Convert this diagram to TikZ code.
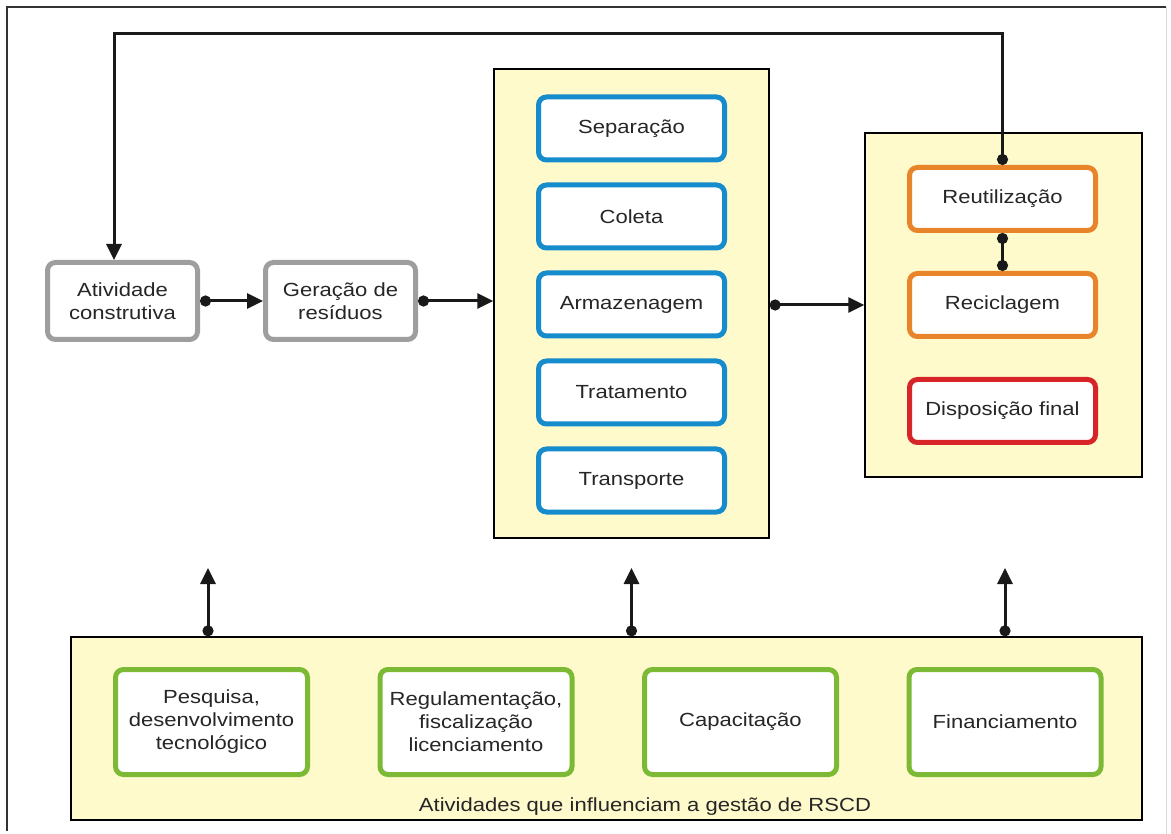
\documentclass[tikz,border=0pt]{standalone}
\usepackage{fontspec}
\setmainfont{Liberation Sans}[FakeStretch=1.16]
\usepackage{xcolor}
\usetikzlibrary{arrows.meta, positioning}
\definecolor{panelyellow}{RGB}{255,250,204}
\definecolor{stagegray}{RGB}{158,158,158}
\definecolor{flowblue}{RGB}{22,140,205}
\definecolor{reuseorange}{RGB}{232,132,42}
\definecolor{dumpred}{RGB}{214,36,40}
\definecolor{supportgreen}{RGB}{124,186,54}
\tikzset{
  panel/.style={
    draw=black, line width=1.3pt, fill=panelyellow, inner sep=0pt
  },
  stagebox/.style={
    draw=stagegray, line width=5pt, rounded corners=8pt, align=center,
    fill=white, minimum width=150pt, minimum height=77pt,
    text=black!85, font=\fontsize{19}{23}\selectfont
  },
  flowbox/.style={
    stagebox, draw=flowblue, minimum width=186pt, minimum height=63pt
  },
  endbox/.style={
    stagebox, minimum width=186pt, minimum height=63pt
  },
  supportbox/.style={
    stagebox, draw=supportgreen, minimum width=192pt, minimum height=105pt
  },
  flowarrow/.style={
    {Circle[length=11pt]}-{Triangle[length=16pt, width=15pt]},
    line width=3pt, color=black!90
  },
  linkline/.style={
    {Circle[length=11pt]}-{Circle[length=11pt]},
    line width=3pt, color=black!90
  },
}

\begin{document}
\begin{tikzpicture}[x=1pt, y=-1pt, node distance=20pt]
  \useasboundingbox (0,0) rectangle (1171,834);
  % ── Frame ──
  \draw[line width=1.4pt, black!80] (7,831) -- (7,7) -- (1166,7);
  \draw[line width=0.6pt, black!15] (1166,7) -- (1166,834);

  % ── Panels ──
  \node[panel, minimum width=275pt, minimum height=469pt] (handling) at (631.5,303.5) {};
  \node[panel, minimum width=277pt, minimum height=344pt] (destiny) at (1003.5,305) {};
  \node[panel, minimum width=1071pt, minimum height=183pt] (support) at (606.5,728.5) {};

  % ── Source stages ──
  \node[stagebox] (activity) at (122.5,301) {Atividade\\construtiva};
  \node[stagebox, right=63pt of activity] (waste) {Geração de\\resíduos};

  % ── Handling steps ──
  \node[flowbox] (sorting) at (631.5,128.5) {Separação};
  \node[flowbox, below=of sorting] (collect) {Coleta};
  \node[flowbox, below=of collect] (storage) {Armazenagem};
  \node[flowbox, below=of storage] (treatment) {Tratamento};
  \node[flowbox, below=of treatment] (transport) {Transporte};

  % ── Destinations ──
  \node[endbox, draw=reuseorange] (reuse) at (1002.5,199) {Reutilização};
  \node[endbox, draw=reuseorange, below=38pt of reuse] (recycle) {Reciclagem};
  \node[endbox, draw=dumpred, below=38pt of recycle] (disposal) {Disposição final};

  % ── Supporting activities ──
  \node[supportbox] (research) at (211.5,722) {Pesquisa,\\desenvolvimento\\tecnológico};
  \node[supportbox, right=67.5pt of research] (rules) {Regulamentação,\\fiscalização\\licenciamento};
  \node[supportbox, right=67.5pt of rules] (training) {Capacitação};
  \node[supportbox, right=67.5pt of training] (funding) {Financiamento};
  \node[text=black!85, font=\fontsize{19}{22}\selectfont, anchor=base]
    (supportlabel) at (645,811) {Atividades que influenciam a gestão de RSCD};

  % ── Arrows ──
  \coordinate (loop) at (114,34);
  \coordinate (upA) at (208,568);
  \coordinate (upB) at (631.5,568);
  \coordinate (upC) at (1005,568);
  \draw[flowarrow] (activity) -- (waste);
  \draw[flowarrow] (waste.east) -- (waste.east -| handling.west);
  \draw[flowarrow] (handling.east |- destiny.west) -- (destiny.west);
  \draw[linkline] (reuse.south) -- (recycle.north);
  \draw[flowarrow] (reuse.north) |- (loop) -- (loop |- activity.north);
  \draw[flowarrow] (upA |- support.north) -- (upA);
  \draw[flowarrow] (upB |- support.north) -- (upB);
  \draw[flowarrow] (upC |- support.north) -- (upC);
\end{tikzpicture}
\end{document}
